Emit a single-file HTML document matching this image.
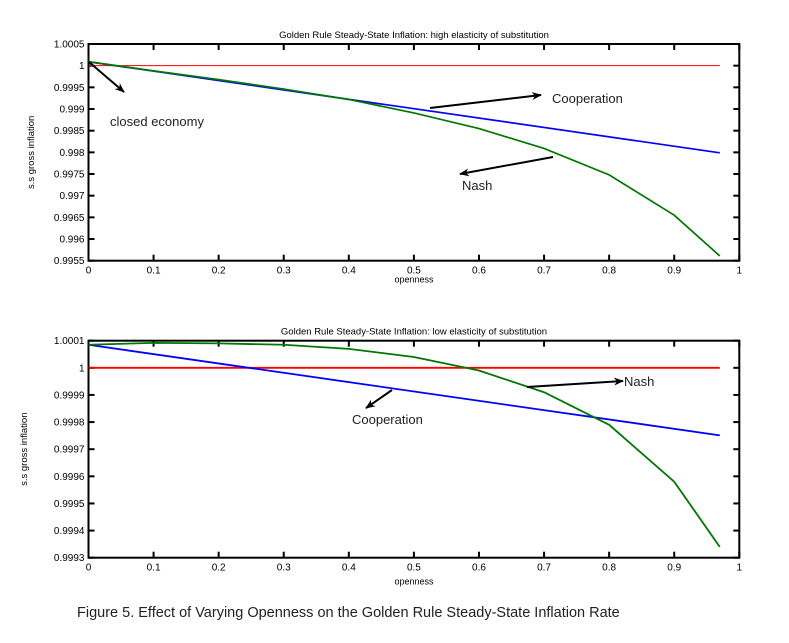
<!DOCTYPE html>
<html><head><meta charset="utf-8"><style>
body{margin:0;background:#fff;width:789px;height:638px;overflow:hidden}
svg text{font-family:"Liberation Sans",Arial,sans-serif}
</style></head><body>
<svg id="fig" width="789" height="638" xmlns="http://www.w3.org/2000/svg">
<defs><marker id="ah" markerWidth="10" markerHeight="8" refX="9" refY="4" orient="auto" markerUnits="userSpaceOnUse"><path d="M0,0 L10,4 L0,8 L3,4 z" fill="#000"/></marker></defs>
<g id="top"></g>
<g id="bot"></g>
<text x="77" y="617" font-size="14.5" fill="#222">Figure 5. Effect of Varying Openness on the Golden Rule Steady-State Inflation Rate</text>
</svg>
<script>
const xs = [0,0.1,0.2,0.3,0.4,0.5,0.6,0.7,0.8,0.9,0.97];
const topNash = [1.00009,0.99988,0.99968,0.99946,0.99922,0.99891,0.99855,0.99809,0.99748,0.99655,0.99561];
const topCoopEnds = [1.00009,0.99799];
const topClosed = [1,1];
const topYTicks = ["1.0005","1","0.9995","0.999","0.9985","0.998","0.9975","0.997","0.9965","0.996","0.9955"];
const botNash = [1.000085,1.000092,1.00009,1.000085,1.00007,1.00004,0.99999,0.99991,0.99979,0.99958,0.99934];
const botCoopEnds = [1.000085,0.999751];
const botClosed = [1,1];
const botYTicks = ["1.0001","1","0.9999","0.9998","0.9997","0.9996","0.9995","0.9994","0.9993"];
const xTicks = ["0","0.1","0.2","0.3","0.4","0.5","0.6","0.7","0.8","0.9","1"];
const NS="http://www.w3.org/2000/svg";
function el(p,t,a){const e=document.createElementNS(NS,t);for(const k in a)e.setAttribute(k,a[k]);p.appendChild(e);return e;}
function chart(g,o){
  const L=88.5,R=739.3,T=o.T,B=o.B;
  const sx=x=>L+(R-L)*x, sy=v=>T+(o.ymax-v)/(o.ymax-o.ymin)*(B-T);
  let t=el(g,'text',{x:414,y:T-6,'font-size':9.5,'text-anchor':'middle'});t.textContent=o.title;
  
  
  const fr=el(g,'rect',{x:L,y:T,width:R-L,height:B-T,fill:'none',stroke:'#000','stroke-width':2});
  
  
  xTicks.forEach((s,i)=>{const x=sx(+s);
    el(g,'line',{x1:x,x2:x,y1:B,y2:B-6,stroke:'#000','stroke-width':2});
    el(g,'line',{x1:x,x2:x,y1:T,y2:T+6,stroke:'#000','stroke-width':2});
    const tx=el(g,'text',{x:x,y:B+13,'font-size':10,'text-anchor':'middle'});tx.textContent=s;
    
    });
  o.yt.forEach(s=>{const y=sy(+s);
    el(g,'line',{x1:L,x2:L+6,y1:y,y2:y,stroke:'#000','stroke-width':2});
    el(g,'line',{x1:R,x2:R-6,y1:y,y2:y,stroke:'#000','stroke-width':2});
    const ty=el(g,'text',{x:L-4,y:y+3.5,'font-size':10,'text-anchor':'end'});ty.textContent=s;
    
    });
  const xl=el(g,'text',{x:414,y:B+o.xlOff,'font-size':9,'text-anchor':'middle'});xl.textContent='openness';
  
  
  const yl=el(g,'text',{x:0,y:0,'font-size':9.5,'text-anchor':'middle',transform:`translate(${o.ylx},${(T+B)/2}) rotate(-90)`});yl.textContent='s.s gross inflation';
  
  
  const line=(vals,xv,col,name,w)=>{const p=el(g,'polyline',{points:vals.map((v,i)=>sx(xv[i])+','+sy(v)).join(' '),fill:'none',stroke:col,'stroke-width':w});
    
    };
  line(o.closed,[0,0.97],'#f00','closed-economy-line',o.rw);
  line(o.coop,[0,0.97],'#00f','cooperation-line',o.sw);
  line(o.nash,xs,'#070','nash-line',o.sw);
  o.ann.forEach(a=>{const ar=el(g,'line',{x1:a[0],y1:a[1],x2:a[2],y2:a[3],stroke:'#000','stroke-width':2,'marker-end':'url(#ah)'});
    
    
    const at=el(g,'text',{x:a[4],y:a[5],'font-size':13,fill:'#222'});at.textContent=a[6];
    
    });
}
chart(document.getElementById('top'),{T:44,B:260.7,ymax:1.0005,ymin:0.9955,yt:topYTicks,nash:topNash,coop:topCoopEnds,closed:topClosed,sw:1.7,rw:1,ylx:34,xlOff:22,
 title:'Golden Rule Steady-State Inflation: high elasticity of substitution',
 ann:[[430,108,541,95,552,103,'Cooperation'],[553,157,460,174,462,190,'Nash'],[89,62,124,92,110,126,'closed economy']]});
chart(document.getElementById('bot'),{T:340.7,B:557.7,ymax:1.0001,ymin:0.9993,yt:botYTicks,nash:botNash,coop:botCoopEnds,closed:botClosed,sw:1.8,rw:1.8,ylx:27,xlOff:27,
 title:'Golden Rule Steady-State Inflation: low elasticity of substitution',
 ann:[[527,387,623,381,624,386,'Nash'],[392,390,366,408,352,424,'Cooperation']]});
</script>
</body></html>
